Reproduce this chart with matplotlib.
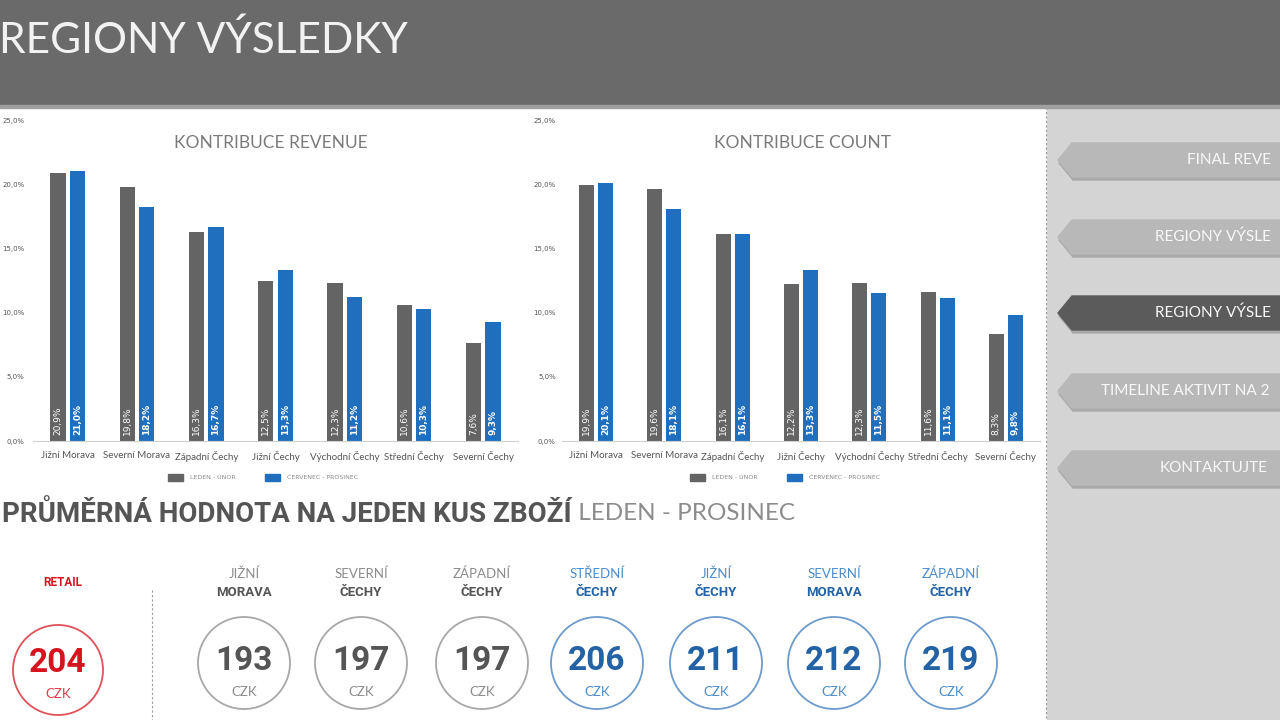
import matplotlib
matplotlib.use("Agg")
import matplotlib.pyplot as plt
from matplotlib.patches import Rectangle, Circle, Polygon
import numpy as np

W, H = 1280, 720

# --- data ---
regions = ["Jižní Morava", "Severní Morava", "Západní Čechy", "Jižní Čechy",
           "Východní Čechy", "Střední Čechy", "Severní Čechy"]
series_names = ["LEDEN - ÚNOR", "ČERVENEC - PROSINEC"]
revenue_jan_feb = [20.9, 19.8, 16.3, 12.5, 12.3, 10.6, 7.6]
revenue_jul_dec = [21.0, 18.2, 16.7, 13.3, 11.2, 10.3, 9.3]
count_jan_feb = [19.9, 19.6, 16.1, 12.2, 12.3, 11.6, 8.3]
count_jul_dec = [20.1, 18.1, 16.1, 13.3, 11.5, 11.1, 9.8]
y_ticks = [0, 5, 10, 15, 20, 25]

retail_label = "RETAIL"
retail_value = 204
avg_top = ["JIŽNÍ", "SEVERNÍ", "ZÁPADNÍ", "STŘEDNÍ", "JIŽNÍ", "SEVERNÍ", "ZÁPADNÍ"]
avg_bottom = ["MORAVA", "ČECHY", "ČECHY", "ČECHY", "ČECHY", "MORAVA", "ČECHY"]
avg_values = [193, 197, 197, 206, 211, 212, 219]
avg_blue = [False, False, False, True, True, True, True]

menu_items = ["FINAL REVE", "REGIONY VÝSLE", "REGIONY VÝSLE", "TIMELINE AKTIVIT NA 2", "KONTAKTUJTE"]
menu_active = 2

# --- styles ---
GRAY = "#646464"
BLUE = "#1f6fbe"
RED = "#d6141f"
FONT = ["Lato", "DejaVu Sans"]
BOLD = ["Roboto", "DejaVu Sans"]

fig = plt.figure(figsize=(W / 100, H / 100), dpi=100)
bg = fig.add_axes([0, 0, 1, 1])
bg.set_xlim(0, W)
bg.set_ylim(H, 0)
bg.axis("off")

# page background
bg.add_patch(Rectangle((0, 0), W, H, color="white", zorder=0))
bg.add_patch(Rectangle((1047, 105), W - 1047, H - 105, color="#d4d4d4", zorder=0))
bg.plot([1046, 1046], [107, H], color="#9a9a9a", lw=0.8, ls=(0, (2, 2)), zorder=1)

# header
bg.add_patch(Rectangle((0, 0), W, 105, color="#6a6a6a", zorder=1))
bg.add_patch(Rectangle((0, 105), W, 3, color="#a0a0a0", zorder=1))
bg.text(-1, 40, "REGIONY VÝSLEDKY", fontsize=30.5, color="#f2f2f2", family=FONT,
        va="center", ha="left", zorder=2)

# sidebar menu
tab_tops = [143, 220, 296, 374, 451]
tab_text_x = [1187, 1155, 1155, 1101, 1160]
for i, (label, top) in enumerate(zip(menu_items, tab_tops)):
    hgt = 34
    pts = [(W, top), (1072, top), (1058, top + hgt / 2), (1072, top + hgt), (W, top + hgt)]
    shadow = [(x + 1, y + 3) for x, y in pts]
    bg.add_patch(Polygon(shadow, closed=True, color="#a9a9a9", zorder=2))
    col = "#5b5b5b" if i == menu_active else "#b8b8b8"
    bg.add_patch(Polygon(pts, closed=True, color=col, zorder=3))
    bg.text(tab_text_x[i], top + hgt / 2, label, fontsize=11, color="#f8f8f8",
            family=FONT, va="center", ha="left", zorder=4)


def pct(v):
    return f"{v:.1f}%".replace(".", ",")


def bar_chart(x0, x1, title, left_vals, right_vals, legend_x, tick_pad, title_cx):
    y_top, y_zero = 120, 441
    ax = fig.add_axes([x0 / W, 1 - y_zero / H, (x1 - x0) / W, (y_zero - y_top) / H])
    idx = np.arange(len(regions))
    w = 0.22
    b1 = ax.bar(idx - 0.14, left_vals, w, color=GRAY, zorder=2)
    b2 = ax.bar(idx + 0.14, right_vals, w, color=BLUE, zorder=2)
    for bars, vals, wt in ((b1, left_vals, "normal"), (b2, right_vals, "bold")):
        for b, v in zip(bars, vals):
            ax.text(b.get_x() + b.get_width() / 2, 0.45, pct(v), rotation=90,
                    ha="center", va="bottom", fontsize=6.5, color="white",
                    weight=wt, zorder=3)
    ax.set_xlim(-0.5, len(regions) - 0.5)
    ax.set_ylim(0, 25)
    ax.set_yticks(y_ticks)
    ax.set_yticklabels([pct(v) for v in y_ticks])
    ax.set_xticks(idx)
    ax.set_xticklabels(regions, family=FONT)
    ax.tick_params(axis="y", length=0, pad=tick_pad, labelsize=5, labelcolor="#555555")
    ax.tick_params(axis="x", length=0, pad=7, labelsize=7, labelcolor="#555555")
    for s in ("top", "right", "left"):
        ax.spines[s].set_visible(False)
    ax.spines["bottom"].set_color("#d0d0d0")
    ax.set_facecolor("none")
    fig.text(title_cx / W, 1 - 143 / H, title, fontsize=12.5, color="#7a7a7a",
             family=FONT, ha="center", va="center")
    # legend
    for k, (name, col) in enumerate(zip(series_names, (GRAY, BLUE))):
        lx = legend_x[k]
        bg.add_patch(Rectangle((lx, 474), 15, 7, color=col, zorder=2))
        bg.text(lx + 22, 477.5, name, fontsize=4.5, color="#8a8a8a",
                va="center", ha="left", zorder=2)
    return ax


bar_chart(33, 518, "KONTRIBUCE REVENUE", revenue_jan_feb, revenue_jul_dec, (168, 265), 6, 271)
bar_chart(562, 1040, "KONTRIBUCE COUNT", count_jan_feb, count_jul_dec, (690, 787), 4.5, 803)

# average price section
t1 = bg.text(2, 514, "PRŮMĚRNÁ HODNOTA NA JEDEN KUS ZBOŽÍ", fontsize=20, color="#555555",
             family=BOLD, weight="bold", va="center", ha="left")
bg.annotate(" LEDEN - PROSINEC", xy=(1, 0.5), xycoords=t1, fontsize=17.5, color="#8c8c8c",
            family=FONT, va="center", ha="left")

bg.plot([152, 152], [590, H], color="#9a9a9a", lw=0.8, ls=(0, (2, 2)))

# retail circle
bg.text(63, 582, retail_label, fontsize=8.5, color=RED, family=BOLD, weight="bold",
        ha="center", va="center")
bg.add_patch(Circle((58, 670), 45, facecolor="white", edgecolor="#e0525b", lw=1.3, zorder=2))
bg.text(58, 663, str(retail_value), fontsize=24, color=RED, family=BOLD, weight="bold",
        ha="center", va="center", zorder=3)
bg.text(58, 694, "CZK", fontsize=9.5, color="#d9424c", family=FONT,
        ha="center", va="center", zorder=3)

circle_x = [244, 361, 482, 597, 716, 834, 951]
for cx, top, bot, val, blue in zip(circle_x, avg_top, avg_bottom, avg_values, avg_blue):
    if blue:
        light, dark, edge = "#4a8ccc", "#2363a5", "#6d9bcc"
    else:
        light, dark, edge = "#8c8c8c", "#555555", "#a8a8a8"
    bg.text(cx, 574, top, fontsize=9.5, color=light, family=FONT,
            ha="center", va="center")
    bg.text(cx, 593, bot, fontsize=9.5, color=dark, family=BOLD, weight="bold",
            ha="center", va="center")
    bg.add_patch(Circle((cx, 663), 46, facecolor="white", edgecolor=edge, lw=1.3, zorder=2))
    bg.text(cx, 661, str(val), fontsize=24, color=dark, family=BOLD, weight="bold",
            ha="center", va="center", zorder=3)
    bg.text(cx, 692, "CZK", fontsize=9.5, color=light, family=FONT,
            ha="center", va="center", zorder=3)

fig.savefig("out.png", dpi=100)
